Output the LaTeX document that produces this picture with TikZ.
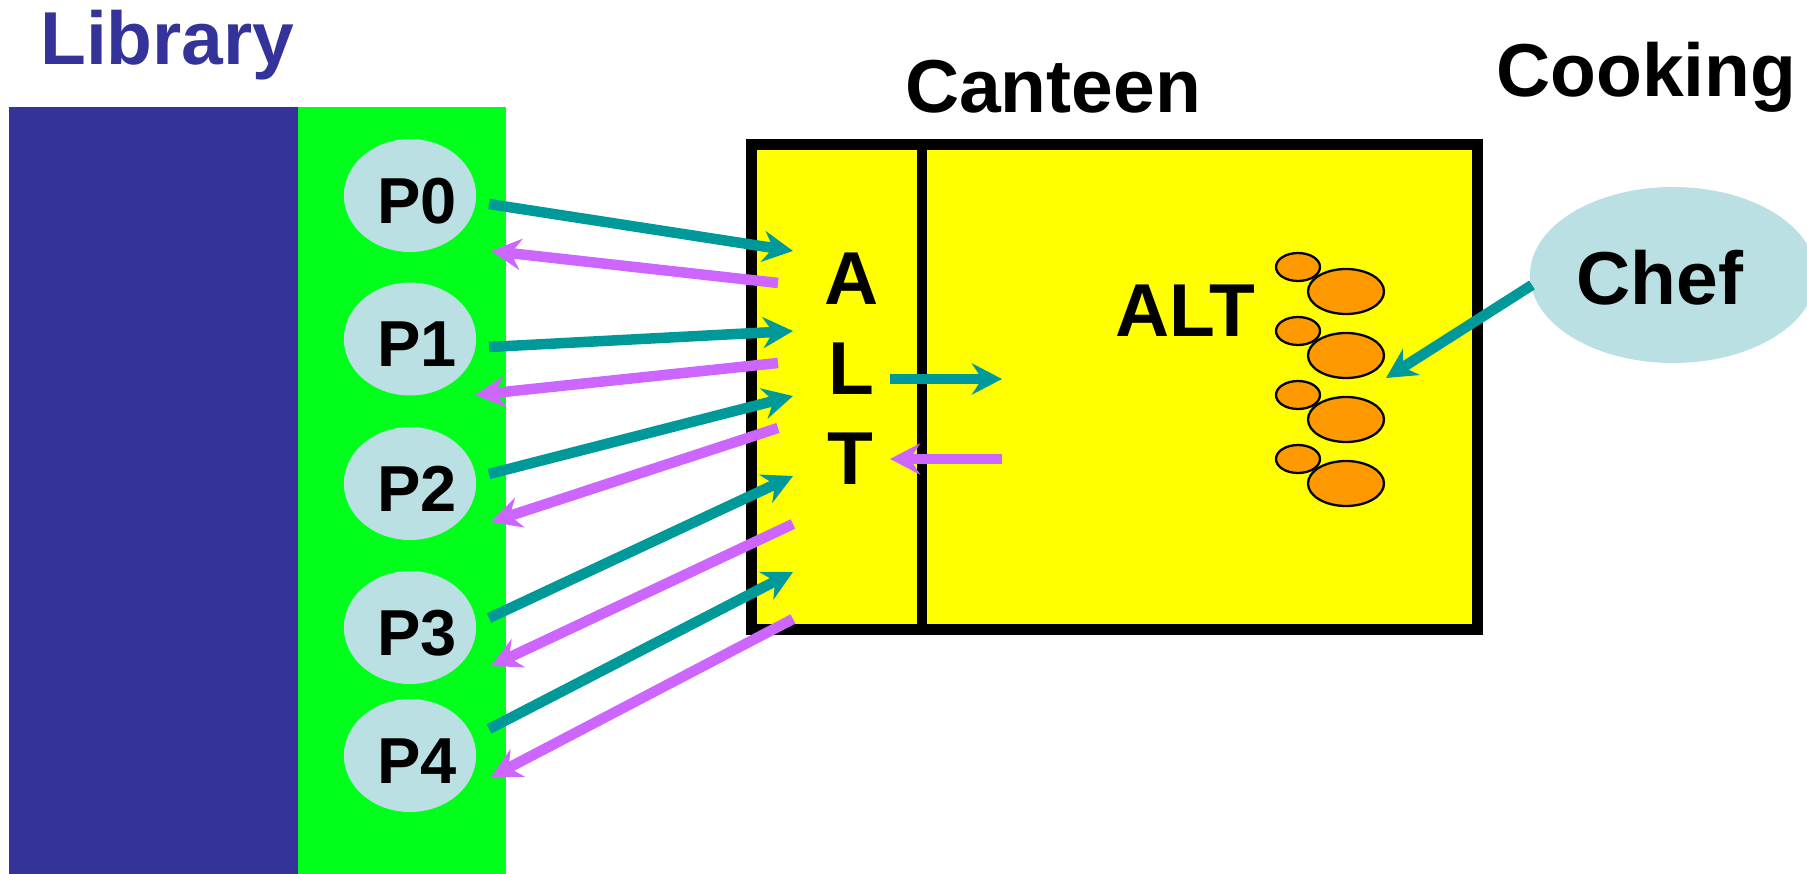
\documentclass[tikz,border=0pt]{standalone}
\usepackage{fontspec}
\setmainfont{Liberation Sans}
\usetikzlibrary{arrows.meta,shapes.geometric}
\definecolor{libblue}{HTML}{333399}
\definecolor{libgreen}{HTML}{00FF1A}
\definecolor{pblue}{HTML}{BBE0E3}
\definecolor{tealc}{HTML}{009999}
\definecolor{violetc}{HTML}{CC66FF}
\definecolor{orangec}{HTML}{FF9900}
\definecolor{yellowc}{HTML}{FFFF00}
\newcommand\myfs[1]{\fontsize{#1}{#1}\selectfont\bfseries}
\begin{document}
\begin{tikzpicture}[x=1pt,y=-1pt,
  proc/.style={ellipse, fill=pblue, minimum width=128pt, minimum height=113pt, inner sep=0pt, font=\myfs{65}, text height=56pt, execute at begin node={\kern14pt}},
  title/.style={inner sep=0pt, font=\myfs{75}},
  send/.style={draw=tealc, line width=10.5pt, -{Stealth[length=30pt,width=31pt,inset=10pt]}},
  recv/.style={draw=violetc, line width=10.5pt, -{Stealth[length=30pt,width=31pt,inset=10pt]}},
  food/.style={ellipse, draw=black, line width=2.3pt, fill=orangec, inner sep=0pt}
]
\useasboundingbox (0,0) rectangle (1807,874);
% library areas
\fill[libblue] (9,107) rectangle (298,874);
\fill[libgreen] (298,107) rectangle (506,874);
% processes
\node[proc] (P0) at (410,195.5) {P0};
\node[proc] (P1) at (410,339) {P1};
\node[proc] (P2) at (410,483.5) {P2};
\node[proc] (P3) at (410,627.5) {P3};
\node[proc] (P4) at (410,755.5) {P4};
% canteen box
\draw[line width=11pt, fill=yellowc] (751.5,145) rectangle (1477,629);
\draw[line width=10pt] (922,145) -- (922,629);
% chef
\node[proc, minimum width=286pt, minimum height=176pt, execute at begin node={}] (chef) at (1673,275) {};
\node[title] (cheftext) at (1660,278) {Chef};
% food
\foreach \k in {0,...,3}{
  \node[food, minimum width=44pt, minimum height=28pt] (s\k) at (1298,{267+64*\k}) {};
  \node[food, minimum width=76pt, minimum height=45pt] (b\k) at (1346,{291.5+64*\k}) {};
}
% titles
\node[title, text=libblue, anchor=base west] (library) at (40,65) {Library};
\node[title, anchor=base] (canteen) at (1053,113) {Canteen};
\node[title, anchor=base west] (cooking) at (1496,97) {Cooking};
\node[title, anchor=base west] (alt) at (1115,337) {ALT};
\node[title, anchor=base] (A) at (852,305) {A};
\node[title, anchor=base] (L) at (851,395) {L};
\node[title, anchor=base] (T) at (850,484) {T};
% connector end points
\coordinate (p0o) at (489,204);  \coordinate (a0i) at (793,251);
\coordinate (a0o) at (778,283);  \coordinate (p0i) at (491,251);
\coordinate (p1o) at (489,347);  \coordinate (a1i) at (793,331);
\coordinate (a1o) at (778,363);  \coordinate (p1i) at (475,395);
\coordinate (p2o) at (489,474);  \coordinate (a2i) at (793,396);
\coordinate (a2o) at (778,428);  \coordinate (p2i) at (491,522);
\coordinate (p3o) at (489,618);  \coordinate (a3i) at (793,476);
\coordinate (a3o) at (793,524);  \coordinate (p3i) at (491,666);
\coordinate (p4o) at (489,729);  \coordinate (a4i) at (793,572);
\coordinate (a4o) at (793,619);  \coordinate (p4i) at (491,777);
\coordinate (ko) at (890,379);   \coordinate (ki) at (1002,379);
\coordinate (kb) at (1002,459);  \coordinate (kl) at (890,459);
\coordinate (co) at (1532,285);  \coordinate (ci) at (1386,378);
% connectors
\draw[send] (p0o) -- (a0i);
\draw[recv] (a0o) -- (p0i);
\draw[send] (p1o) -- (a1i);
\draw[recv] (a1o) -- (p1i);
\draw[send] (p2o) -- (a2i);
\draw[recv] (a2o) -- (p2i);
\draw[send] (p3o) -- (a3i);
\draw[recv] (a3o) -- (p3i);
\draw[send] (p4o) -- (a4i);
\draw[recv] (a4o) -- (p4i);
\draw[send] (ko) -- (ki);
\draw[recv] (kb) -- (kl);
\draw[send] (co) -- (ci);
\end{tikzpicture}
\end{document}
